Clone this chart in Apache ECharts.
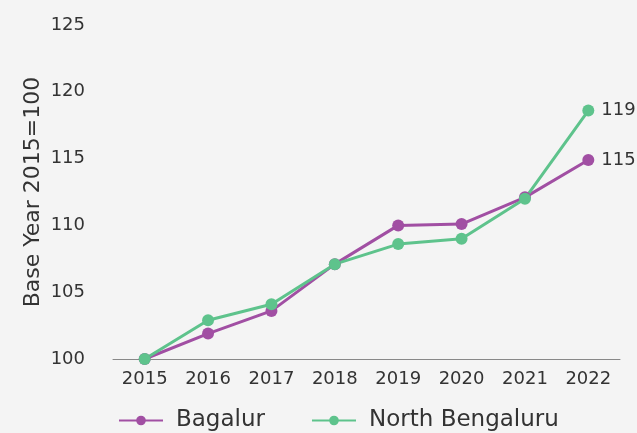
<!DOCTYPE html>
<html>
<head>
<meta charset="utf-8">
<script src="https://cdn.jsdelivr.net/npm/echarts@6/dist/echarts.min.js"></script>
<style>
html, body { margin: 0; padding: 0; background: #f4f4f4; }
#main { width: 637px; height: 433px; }
</style>
</head>
<body>
<div id="main"></div>
<script>
// data
var years = ['2015', '2016', '2017', '2018', '2019', '2020', '2021', '2022'];
var bagalur = [100, 101.9, 103.6, 107.1, 110.0, 110.1, 112.1, 114.9];
var northBengaluru = [100, 102.9, 104.1, 107.1, 108.6, 109.0, 112.0, 118.6];

var purple = '#a14fa3';
var green = '#5ec38c';
var font = 'DejaVu Sans';

function endLabel(p) {
	return p.dataIndex === years.length - 1 ? Math.round(p.value) : '';
}

var myChart = echarts.init(document.getElementById('main'));

var option = {
	backgroundColor : '#f4f4f4',
	textStyle : { fontFamily : font },
	grid : {
		left : 113,
		right : 17,
		top : 25,
		bottom : 74
	},
	legend : {
		top : 404,
		left : 113,
		itemWidth : 44,
		itemHeight : 12,
		itemGap : 46,
		textStyle : {
			fontSize : 23,
			color : '#333',
			fontFamily : font,
			padding : [ 0, 0, 0, 8 ]
		},
		data : [ 'Bagalur', 'North Bengaluru' ]
	},
	xAxis : {
		type : 'category',
		data : years,
		axisLine : { lineStyle : { color : '#888', width : 1 } },
		axisTick : { show : false },
		axisLabel : { fontSize : 18, color : '#333', margin : 11 }
	},
	yAxis : {
		type : 'value',
		min : 100,
		max : 125,
		interval : 5,
		name : 'Base Year 2015=100',
		nameLocation : 'middle',
		nameGap : 69,
		nameMoveOverlap : false,
		nameTextStyle : { fontSize : 22, color : '#333' },
		splitLine : { show : false },
		axisLine : { show : false },
		axisTick : { show : false },
		axisLabel : { fontSize : 18, color : '#333', margin : 28 }
	},
	series : [ {
		name : 'Bagalur',
		type : 'line',
		data : bagalur,
		color : purple,
		symbol : 'circle',
		symbolSize : 12,
		lineStyle : { width : 3 },
		label : {
			show : true,
			position : 'right',
			distance : 7,
			fontSize : 18,
			color : '#333',
			formatter : endLabel
		}
	}, {
		name : 'North Bengaluru',
		type : 'line',
		data : northBengaluru,
		color : green,
		symbol : 'circle',
		symbolSize : 12,
		lineStyle : { width : 3 },
		label : {
			show : true,
			position : 'right',
			distance : 7,
			fontSize : 18,
			color : '#333',
			formatter : endLabel
		}
	} ]
};

myChart.setOption(option);
</script>
</body>
</html>
